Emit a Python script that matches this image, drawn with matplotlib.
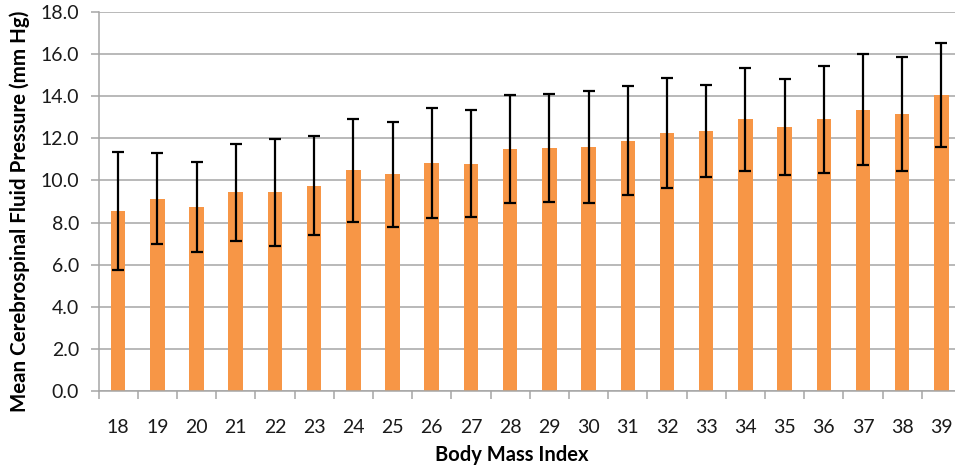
import matplotlib.pyplot as plt
import numpy as np
from matplotlib.ticker import FormatStrFormatter

plt.rcParams['font.family'] = ['Lato', 'DejaVu Sans']

bmi = list(range(18, 40))
mean_csf = [8.55, 9.13, 8.74, 9.43, 9.43, 9.75, 10.49, 10.29, 10.84, 10.80, 11.49,
            11.55, 11.60, 11.89, 12.25, 12.35, 12.90, 12.55, 12.90, 13.36, 13.15, 14.06]
err = [2.8, 2.15, 2.13, 2.29, 2.55, 2.35, 2.45, 2.5, 2.6, 2.53, 2.55,
       2.55, 2.65, 2.6, 2.6, 2.2, 2.45, 2.29, 2.55, 2.63, 2.7, 2.46]

fig = plt.figure(figsize=(9.55, 4.69), dpi=100)
ax = fig.add_axes([98.5 / 955, 1 - 391 / 469, 862.5 / 955, 379 / 469])

x = np.arange(len(bmi))
ax.bar(x, mean_csf, width=0.37, color='#F79646', zorder=2)
ax.errorbar(x, mean_csf, yerr=err, fmt='none', ecolor='black', elinewidth=1.6,
            capsize=4.2, capthick=1.6, zorder=3)

ax.set_xlim(-0.5, len(bmi) - 0.5)
ax.set_ylim(0, 18)
ax.set_yticks(np.arange(0, 18.1, 2))
ax.yaxis.set_major_formatter(FormatStrFormatter('%.1f'))
ax.grid(axis='y', color='#A6A6A6', linewidth=1.1, zorder=0)

ax.set_xticks(x)
ax.set_xticklabels([str(b) for b in bmi])
ax.set_xticks(np.arange(-0.5, len(bmi), 1), minor=True)
ax.tick_params(axis='x', which='major', length=0, pad=20, labelsize=14, labelcolor='#1a1a1a')
ax.tick_params(axis='x', which='minor', length=6, color='#A6A6A6', width=1.1)
ax.tick_params(axis='y', length=6, color='#A6A6A6', width=1.1, labelsize=14, pad=8,
               labelcolor='#1a1a1a')

for s in ['top', 'right']:
    ax.spines[s].set_visible(False)
for s in ['left', 'bottom']:
    ax.spines[s].set_color('#A6A6A6')
    ax.spines[s].set_linewidth(1.1)

ax.set_xlabel('Body Mass Index', fontsize=14.5, fontweight='bold')
ax.xaxis.set_label_coords(0.479, -0.143)
ax.set_ylabel('Mean Cerebrospinal Fluid Pressure (mm Hg)', fontsize=14.8,
              fontweight='bold')
ax.yaxis.set_label_coords(-0.079, 0.475)

fig.savefig('out.png', dpi=100)
